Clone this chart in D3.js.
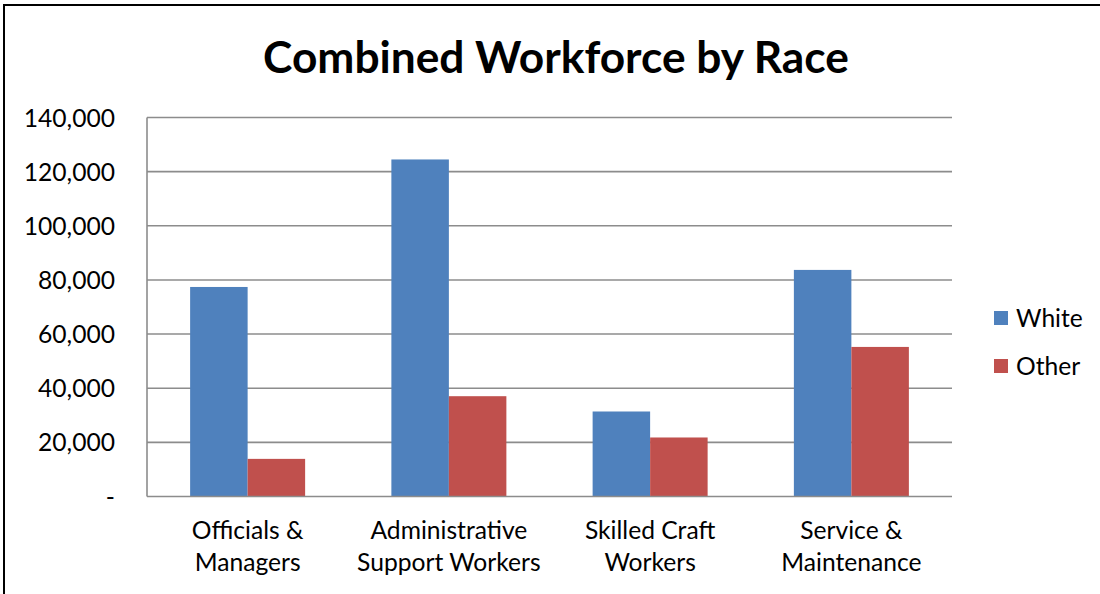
<!DOCTYPE html>
<html>
<head>
<meta charset="utf-8">
<script src="https://cdn.jsdelivr.net/npm/d3@7"></script>
<style>
  html, body { margin: 0; padding: 0; background: #fff; }
  svg { display: block; }
  text { font-family: Lato, "Open Sans", sans-serif; fill: #000; }
</style>
</head>
<body>
<svg id="chart" width="1100" height="594"></svg>
<script>
// Workforce counts per job category
const categories = [
  ["Officials &", "Managers"],
  ["Administrative", "Support Workers"],
  ["Skilled Craft", "Workers"],
  ["Service &", "Maintenance"]
];
const seriesNames = ["White", "Other"];
const whiteValues = [77400, 124500, 31400, 83700];
const otherValues = [13900, 37050, 21800, 55250];
const yTicks = [0, 20000, 40000, 60000, 80000, 100000, 120000, 140000];
const seriesColors = ["#4F81BD", "#C0504D"];

const svg = d3.select("#chart");
const W = 1100, H = 594;
const plot = { left: 147, right: 952, top: 117.5, bottom: 496.5 };

// outer chart frame (only top and left edges fall inside the view)
svg.append("rect")
  .attr("x", 4).attr("y", 5)
  .attr("width", W + 20).attr("height", H + 20)
  .attr("fill", "none").attr("stroke", "#000").attr("stroke-width", 2);

const catKeys = categories.map((c, i) => i);
const x0 = d3.scaleBand().domain(catKeys).range([plot.left, plot.right]).paddingInner(0).paddingOuter(0);
// gap between groups is 150% of one bar width: 0.75 bar on each side
const x1 = d3.scaleBand().domain(seriesNames)
  .range([0, x0.bandwidth()]).paddingInner(0).paddingOuter(0.75);
const y = d3.scaleLinear().domain([0, 140000]).range([plot.bottom, plot.top]);

const yAxis = d3.axisLeft(y).tickValues(yTicks)
  .tickSize(0).tickPadding(0)
  .tickFormat(d => d === 0 ? "-" : d3.format(",")(d));

// horizontal gridlines
const grid = svg.append("g");
grid.selectAll("line").data(yTicks.filter(d => d > 0)).join("line")
  .attr("x1", plot.left).attr("x2", plot.right)
  .attr("y1", d => y(d)).attr("y2", d => y(d))
  .attr("stroke", "#8c8c8c").attr("stroke-width", 1.6);

// bars
const data = categories.map((c, i) => ({ i, vals: [whiteValues[i], otherValues[i]] }));
const groups = svg.append("g").selectAll("g").data(data).join("g")
  .attr("transform", d => `translate(${x0(d.i)},0)`);
groups.selectAll("rect").data(d => d.vals.map((v, k) => ({ v, k }))).join("rect")
  .attr("x", d => x1(seriesNames[d.k]))
  .attr("width", x1.bandwidth())
  .attr("y", d => y(d.v))
  .attr("height", d => y(0) - y(d.v))
  .attr("fill", d => seriesColors[d.k]);

// axis lines
svg.append("line")
  .attr("x1", plot.left).attr("x2", plot.left)
  .attr("y1", plot.top).attr("y2", plot.bottom)
  .attr("stroke", "#8c8c8c").attr("stroke-width", 1.6);
svg.append("line")
  .attr("x1", plot.left).attr("x2", plot.right)
  .attr("y1", plot.bottom).attr("y2", plot.bottom)
  .attr("stroke", "#8c8c8c").attr("stroke-width", 1.6);

// choose a font size so label widths land where they should
function fitSize(str, weight, targetWidth) {
  const t = svg.append("text").attr("font-size", 100).attr("font-weight", weight).text(str);
  const w = t.node().getComputedTextLength();
  t.remove();
  return 100 * targetWidth / w;
}
const labelSize = fitSize("Administrative", 400, 157);
const titleSize = fitSize("Combined Workforce by Race", 700, 586);

const yg = svg.append("g").attr("transform", `translate(115,0)`).call(yAxis);
yg.select(".domain").remove();
yg.selectAll("text")
  .attr("font-size", labelSize)
  .attr("font-family", "Lato, 'Open Sans', sans-serif")
  .attr("fill", "#000")
  .attr("dy", "0.35em");

// category labels (two lines each)
const xl = svg.append("g").selectAll("text").data(data).join("text")
  .attr("text-anchor", "middle")
  .attr("font-size", labelSize)
  .attr("x", d => x0(d.i) + x0.bandwidth() / 2)
  .attr("y", 539);
xl.selectAll("tspan").data(d => categories[d.i]).join("tspan")
  .attr("x", function () { return d3.select(this.parentNode).attr("x"); })
  .attr("dy", (d, k) => k === 0 ? 0 : 32)
  .text(d => d);

// title
svg.append("text")
  .attr("x", 556).attr("y", 73)
  .attr("text-anchor", "middle")
  .attr("font-weight", 700)
  .attr("font-size", titleSize)
  .text("Combined Workforce by Race");

// legend
const legend = svg.append("g").selectAll("g").data(seriesNames).join("g")
  .attr("transform", (d, k) => `translate(994,${318 + k * 48})`);
legend.append("rect")
  .attr("x", 0).attr("y", -7).attr("width", 14).attr("height", 14)
  .attr("fill", (d, k) => seriesColors[k]);
legend.append("text")
  .attr("x", 22).attr("dy", "0.35em")
  .attr("font-size", labelSize)
  .text(d => d);
</script>
</body>
</html>
